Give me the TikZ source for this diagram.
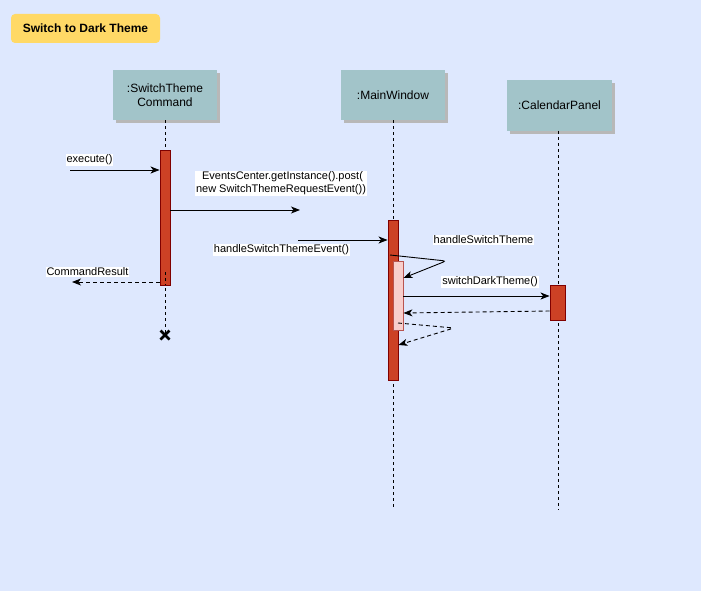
\documentclass[tikz,border=0pt]{standalone}
\usepackage{fontspec}
\setmainfont{Liberation Sans}
\usetikzlibrary{arrows.meta}
\definecolor{bg}{HTML}{DEE8FE}
\definecolor{titlefill}{HTML}{FFD966}
\definecolor{headfill}{HTML}{A2C4C9}
\definecolor{actfill}{HTML}{CC4125}
\definecolor{actdraw}{HTML}{7F0000}
\definecolor{subfill}{HTML}{F8CECC}
\definecolor{subdraw}{HTML}{B85450}
\tikzset{
  head/.style={draw=none, fill=headfill, minimum width=104pt, minimum height=50pt, align=center, font=\fontsize{12}{13.5}\selectfont, inner sep=0pt},
  shadowbox/.style={fill=black!28, draw=none},
  life/.style={dash pattern=on 3pt off 3pt, line width=0.9pt},
  act/.style={draw=actdraw, fill=actfill, line width=0.9pt},
  subact/.style={draw=subdraw, fill=subfill, line width=0.9pt},
  msg/.style={-{Stealth[length=9pt,width=7pt,inset=2.5pt]}, line width=0.9pt},
  ret/.style={msg, dash pattern=on 4pt off 3pt},
  lbl/.style={fill=white, inner sep=1pt, font=\fontsize{11}{13}\selectfont, align=center},
  cross/.style={line width=2.6pt},
}
\begin{document}
\begin{tikzpicture}[x=1pt,y=-1pt]
\useasboundingbox (0,0) rectangle (701,591);
\fill[bg] (0,0) rectangle (701,591);
% title
\node[fill=titlefill, rounded corners=4pt, minimum width=149pt, minimum height=29pt, font=\bfseries\fontsize{12}{14}\selectfont, inner sep=0pt] (title) at (85.5,28.5) {Switch to Dark Theme};
% heads with shadows
\fill[shadowbox] (116,73) rectangle (220,123);
\fill[shadowbox] (344,73) rectangle (448,123);
\fill[shadowbox] (510,83) rectangle (615,134);
\node[head] (stc) at (165,95) {:SwitchTheme\\Command};
\node[head] (mw) at (393,95) {:MainWindow};
\node[head, minimum width=105pt, minimum height=51pt] (cp) at (559.5,105.5) {:CalendarPanel};
% lifelines
\coordinate (stcend) at (165,333);
\coordinate (mwend) at (393,510);
\coordinate (cpend) at (558,510);
\draw[life] (stc.south) -- (stcend);
\draw[life] (mw.south) -- (mwend);
\draw[life] (558,131) -- (cpend);
% destruction
\coordinate (xc) at (165,335);
\draw[cross] ([shift={(-4.5,-4.5)}]xc) -- ([shift={(4.5,4.5)}]xc);
\draw[cross] ([shift={(-4.5,4.5)}]xc) -- ([shift={(4.5,-4.5)}]xc);
% activations
\node[act, minimum width=10pt, minimum height=135pt, inner sep=0pt] (a1) at (165,217.5) {};
\draw[life] (165,272) -- (165,285);
\node[act, minimum width=10pt, minimum height=160pt, inner sep=0pt] (a2) at (393,300) {};
\node[subact, minimum width=10pt, minimum height=69pt, inner sep=0pt] (a3) at (398,295.5) {};
\node[act, minimum width=15pt, minimum height=35pt, inner sep=0pt] (a4) at (557.5,302.5) {};
% messages
\coordinate (execstart) at (70,170);
\draw[msg] (execstart) -- (a1.west |- 0,170);
\node[lbl] (execlbl) at (89.5,160) {execute()};

\coordinate (postend) at (300,210);
\draw[msg] (a1.east |- 0,210) -- (postend);
\node[lbl] (postlbl) at (281,183.5) {\ EventsCenter.getInstance().post(\\new SwitchThemeRequestEvent())};

\coordinate (hstart) at (298,240);
\draw[msg] (hstart) -- (a2.west |- 0,240);
\node[lbl] (hlbl) at (281.5,250) {handleSwitchThemeEvent()};

\coordinate (crend) at (72,282);
\draw[ret] (a1.west |- 0,282) -- (crend);
\node[lbl] (crlbl) at (87.5,272) {CommandResult};

\coordinate (self1) at (446,261);
\draw[msg, rounded corners=3pt] (390,255) -- (self1) -- (a3.east |- 0,278);
\node[lbl] (selflbl) at (483.5,240) {handleSwitchTheme};

\draw[msg] (a3.east |- 0,296) -- (a4.west |- 0,296);
\node[lbl] (sdlbl) at (490,282) {switchDarkTheme()};

\draw[ret] (a4.west |- 0,311) -- (a3.east |- 0,313);

\coordinate (self2) at (454,328);
\draw[ret, rounded corners=3pt] (398,323) -- (self2) -- (a2.east |- 0,345);
\end{tikzpicture}
\end{document}
